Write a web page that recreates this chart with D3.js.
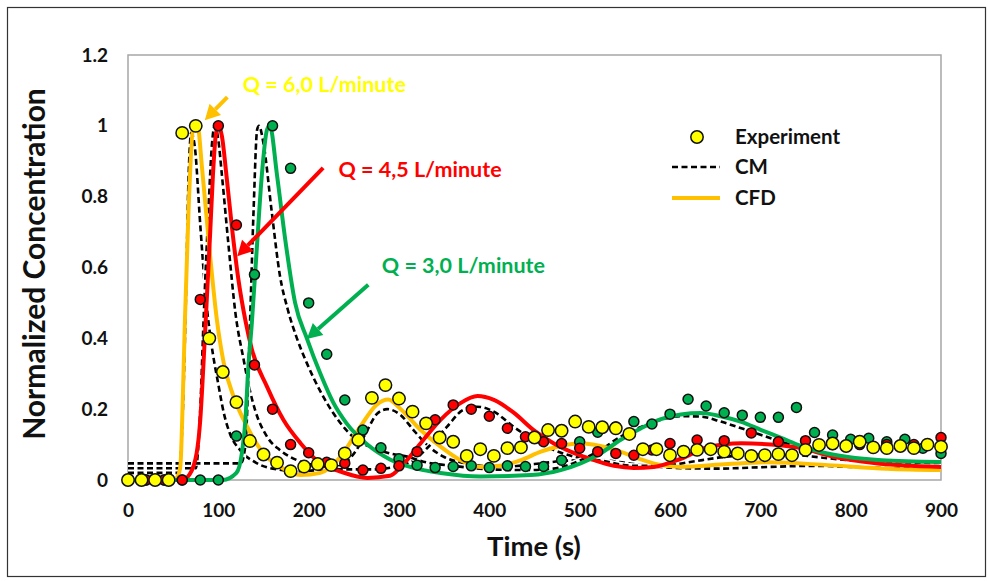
<!DOCTYPE html>
<html lang="en">
<head>
  <meta charset="utf-8"/>
  <title>Normalized Concentration</title>
  <script src="https://d3js.org/d3.v7.min.js"></script>
  <style>
    body { margin: 0; background: #fff; }
    text { font-family: Lato, "Open Sans", sans-serif; font-weight: bold; }
  </style>
</head>
<body>
<svg id="chart" width="988" height="581"></svg>
<script>
// ---- data: [time (s), normalized concentration] ----
const expQ60 = [[0,0],[15,0],[30,0],[45,0],[60,0.98],[75,1.0],[90,0.40],[105,0.305],[120,0.22],[135,0.11],
  [150,0.072],[165,0.049],[180,0.025],[195,0.038],[210,0.045],[225,0.042],[240,0.075],[255,0.113],[270,0.232],
  [285,0.268],[300,0.23],[315,0.193],[330,0.16],[345,0.12],[360,0.108],[375,0.068],[390,0.087],[405,0.068],
  [420,0.09],[435,0.092],[450,0.12],[465,0.141],[480,0.139],[495,0.165],[510,0.15],[525,0.149],[540,0.146],
  [555,0.13],[570,0.087],[585,0.087],[600,0.07],[615,0.08],[630,0.085],[645,0.087],[660,0.08],[675,0.075],
  [690,0.068],[705,0.07],[720,0.073],[735,0.07],[750,0.085],[765,0.099],[780,0.103],[795,0.096],[810,0.108],
  [825,0.092],[840,0.09],[855,0.096],[870,0.09],[885,0.1],[900,0.094]];
const expQ45 = [[0,0],[20,0],[40,0],[60,0],[80,0.51],[100,1.0],[120,0.72],[140,0.325],[160,0.20],[180,0.10],
  [200,0.077],[220,0.05],[240,0.047],[260,0.028],[280,0.033],[300,0.04],[320,0.08],[340,0.17],[360,0.212],
  [380,0.20],[400,0.18],[420,0.146],[440,0.122],[460,0.108],[480,0.103],[500,0.09],[520,0.08],[540,0.075],
  [560,0.07],[580,0.085],[600,0.103],[630,0.113],[660,0.111],[690,0.133],[720,0.108],[750,0.111],[780,0.1],
  [810,0.1],[840,0.1],[870,0.1],[900,0.12]];
const expQ30 = [[0,0],[20,0],[40,0],[60,0],[80,0],[100,0],[120,0.124],[140,0.58],[160,1.0],[180,0.88],
  [200,0.50],[220,0.355],[240,0.226],[260,0.141],[280,0.091],[300,0.06],[320,0.042],[340,0.035],[360,0.038],
  [380,0.04],[400,0.035],[420,0.04],[440,0.038],[460,0.038],[480,0.056],[500,0.108],[520,0.135],[540,0.15],
  [560,0.165],[580,0.158],[600,0.186],[620,0.228],[640,0.209],[660,0.19],[680,0.183],[700,0.177],[720,0.177],
  [740,0.205],[760,0.134],[780,0.127],[800,0.115],[820,0.118],[840,0.108],[860,0.115],[880,0.09],[900,0.075]];

const cfdQ60 = [[0,0],[50,0],[55,0.01],[58,0.04],[60,0.17],[63,0.45],[67,0.76],[72,0.99],[77,1.0],[82,0.88],
  [91,0.63],[98,0.46],[106,0.33],[117,0.235],[132,0.15],[150,0.075],[168,0.038],[191,0.014],[213,0.02],
  [235,0.065],[257,0.15],[275,0.212],[288,0.227],[302,0.2],[324,0.141],[346,0.094],[368,0.056],[390,0.037],
  [412,0.04],[435,0.056],[457,0.08],[479,0.096],[501,0.104],[523,0.096],[545,0.08],[568,0.058],[590,0.042],
  [612,0.037],[664,0.045],[708,0.05],[775,0.042],[840,0.032],[900,0.028]];
const cfdQ45 = [[0,0],[60,0],[68,0.015],[76,0.076],[80,0.17],[84,0.35],[88,0.55],[91,0.7],[94,0.86],[97,0.97],
  [100,1.0],[104,0.97],[109,0.86],[115,0.715],[122,0.57],[130,0.45],[137,0.37],[154,0.263],[172,0.17],
  [191,0.104],[213,0.047],[235,0.024],[265,0.006],[290,0.012],[302,0.037],[324,0.104],[346,0.17],[368,0.217],
  [387,0.237],[405,0.226],[427,0.19],[449,0.141],[471,0.104],[494,0.076],[516,0.056],[538,0.04],[560,0.034],
  [582,0.037],[612,0.06],[642,0.093],[679,0.104],[712,0.1],[745,0.09],[782,0.065],[826,0.048],[900,0.037]];
const cfdQ30 = [[0,0],[105,0],[120,0.02],[126,0.075],[130,0.17],[133,0.31],[137,0.44],[143,0.67],[148,0.856],
  [154,0.99],[157,1.0],[165,0.86],[174,0.68],[185,0.5],[198,0.4],[213,0.3],[227,0.22],[242,0.16],
  [265,0.1],[290,0.058],[327,0.028],[346,0.02],[390,0.01],[446,0.014],[479,0.028],[501,0.047],[523,0.075],
  [545,0.113],[568,0.146],[590,0.172],[612,0.185],[634,0.189],[656,0.18],[679,0.164],[701,0.141],[723,0.119],
  [745,0.096],[767,0.079],[797,0.065],[834,0.056],[900,0.051]];

const cmQ60 = [[0,0.02],[56,0.02],[60,0.15],[64,0.5],[67,0.85],[70,0.98],[74,0.94],[80,0.72],[86,0.52],[92,0.39],
  [100,0.27],[106,0.19],[113,0.13],[124,0.085],[143,0.047],[165,0.03],[190,0.025],[215,0.03],
  [235,0.04],[253,0.085],[265,0.141],[276,0.188],[287,0.2],[302,0.183],[316,0.141],[335,0.09],[350,0.065],
  [368,0.05],[390,0.04],[412,0.036],[450,0.045],[490,0.055],[523,0.056],[560,0.045],[600,0.035],[650,0.032],
  [700,0.036],[760,0.04],[820,0.035],[900,0.03]];
const cmQ45 = [[0,0.033],[75,0.033],[80,0.2],[83.5,0.44],[89,0.76],[93,0.95],[96,1.0],[100,0.96],[104,0.86],
  [111,0.67],[119,0.47],[128,0.34],[134,0.263],[141,0.195],[154,0.122],[168,0.085],[187,0.056],[213,0.038],
  [240,0.03],[270,0.03],[300,0.04],[316,0.056],[335,0.1],[353,0.15],[371,0.198],[386,0.207],[405,0.193],
  [427,0.15],[449,0.113],[471,0.085],[494,0.066],[523,0.055],[560,0.04],[590,0.04],[620,0.05],[660,0.065],
  [700,0.072],[740,0.07],[780,0.06],[830,0.05],[900,0.042]];
const cmQ30 = [[0,0.047],[125,0.047],[130,0.1],[135,0.44],[139,0.76],[143,0.99],[145,1.0],[150,0.95],
  [159,0.76],[168,0.58],[177,0.48],[187,0.4],[198,0.33],[213,0.25],[227,0.19],[242,0.14],[258,0.105],
  [272,0.09],[290,0.075],[309,0.066],[330,0.05],[360,0.04],[400,0.03],[440,0.028],[471,0.032],[501,0.056],
  [523,0.085],[545,0.122],[568,0.15],[590,0.17],[612,0.18],[634,0.179],[656,0.165],[679,0.146],[701,0.127],
  [723,0.108],[745,0.092],[767,0.075],[797,0.062],[834,0.052],[900,0.048]];

const xTicks = [0,100,200,300,400,500,600,700,800,900];
const yTicks = [0,0.2,0.4,0.6,0.8,1,1.2];
const labels = ["Q = 6,0 L/minute","Q = 4,5 L/minute","Q = 3,0 L/minute"];
const colYellow = "#FFFF00", colOrange = "#FFC000", colRed = "#FF0000", colGreen = "#00B050";

const svg = d3.select("#chart");
const x = d3.scaleLinear().domain([0,900]).range([128,941]);
const y = d3.scaleLinear().domain([0,1.2]).range([480,55]);

// outer frame + plot frame
svg.append("rect").attr("x",7.5).attr("y",7.5).attr("width",978).attr("height",569)
  .attr("fill","none").attr("stroke","#333").attr("stroke-width",1.2);
svg.append("rect").attr("x",x(0)).attr("y",y(1.2)).attr("width",x(900)-x(0)).attr("height",y(0)-y(1.2))
  .attr("fill","none").attr("stroke","#a6a6a6").attr("stroke-width",1.5);

// axes
const xAxis = svg.append("g").attr("transform","translate(0,"+y(0)+")")
  .call(d3.axisBottom(x).tickValues(xTicks).tickSize(0).tickPadding(24));
const yAxis = svg.append("g").attr("transform","translate("+x(0)+",0)")
  .call(d3.axisLeft(y).tickValues(yTicks).tickSize(0).tickPadding(20).tickFormat(d => String(+d.toFixed(1))));
[xAxis,yAxis].forEach(a => {
  a.select(".domain").remove();
  a.selectAll("text").attr("font-size",19).attr("fill","#111").style("font-family","Lato").style("font-weight","bold");
});

svg.append("text").attr("x",534).attr("y",556).attr("text-anchor","middle")
  .attr("font-size",27.5).attr("fill","#111").text("Time (s)");
svg.append("text").attr("transform","translate(45,264) rotate(-90)").attr("text-anchor","middle")
  .attr("font-size",30).attr("fill","#111").text("Normalized Concentration");

const line = d3.line().x(d => x(d[0])).y(d => y(d[1])).curve(d3.curveMonotoneX);

// CM dashed (white halo under black dashes)
[cmQ60,cmQ45,cmQ30].forEach(s => {
  svg.append("path").attr("d",line(s)).attr("fill","none").attr("stroke","#fff").attr("stroke-width",5);
  svg.append("path").attr("d",line(s)).attr("fill","none").attr("stroke","#000")
    .attr("stroke-width",2.6).attr("stroke-dasharray","6,3.5");
});

// CFD solid
[[cfdQ60,colOrange],[cfdQ45,colRed],[cfdQ30,colGreen]].forEach(([s,c]) => {
  svg.append("path").attr("d",line(s)).attr("fill","none").attr("stroke",c).attr("stroke-width",4);
});

// experiment markers
[[expQ30,colGreen,5],[expQ45,colRed,5],[expQ60,colYellow,6.2]].forEach(([s,c,r]) => {
  svg.append("g").selectAll("circle").data(s).enter().append("circle")
    .attr("cx", d => x(d[0])).attr("cy", d => y(d[1])).attr("r", r)
    .attr("fill", c).attr("stroke","#111").attr("stroke-width",1.5);
});

// annotations: arrows and labels (positions in data units)
const arrows = [
  {from:[110,1.081], to:[85,1.016], c:colOrange},
  {from:[216,0.881], to:[121,0.632], c:colRed},
  {from:[266,0.551], to:[198,0.398], c:colGreen}
];
arrows.forEach(a => {
  const x1 = x(a.from[0]), y1 = y(a.from[1]), x2 = x(a.to[0]), y2 = y(a.to[1]);
  const ang = Math.atan2(y2-y1, x2-x1), hl = 15, hw = 8;
  const bx = x2 - hl*Math.cos(ang), by = y2 - hl*Math.sin(ang);
  svg.append("line").attr("x1",x1).attr("y1",y1).attr("x2",bx).attr("y2",by)
    .attr("stroke",a.c).attr("stroke-width",4);
  svg.append("path").attr("fill",a.c)
    .attr("d","M"+x2+","+y2+"L"+(bx+hw*Math.sin(ang))+","+(by-hw*Math.cos(ang))
      +"L"+(bx-hw*Math.sin(ang))+","+(by+hw*Math.cos(ang))+"Z");
});
const notes = [[127,1.095,colYellow],[233,0.855,colRed],[281,0.584,colGreen]];
notes.forEach((n,i) => {
  svg.append("text").attr("x",x(n[0])).attr("y",y(n[1])).attr("font-size",21.5)
    .attr("fill",n[2]).text(labels[i]);
});

// legend
const lg = svg.append("g");
lg.append("circle").attr("cx",697).attr("cy",137).attr("r",6.2).attr("fill",colYellow)
  .attr("stroke","#111").attr("stroke-width",1.5);
lg.append("line").attr("x1",672).attr("x2",720).attr("y1",167).attr("y2",167)
  .attr("stroke","#000").attr("stroke-width",2.6).attr("stroke-dasharray","6,3.5");
lg.append("line").attr("x1",672).attr("x2",720).attr("y1",198).attr("y2",198)
  .attr("stroke",colOrange).attr("stroke-width",4);
[["Experiment",144],["CM",174],["CFD",205]].forEach(t => {
  lg.append("text").attr("x",735).attr("y",t[1]).attr("font-size",20.5).attr("fill","#111").text(t[0]);
});
</script>
</body>
</html>
